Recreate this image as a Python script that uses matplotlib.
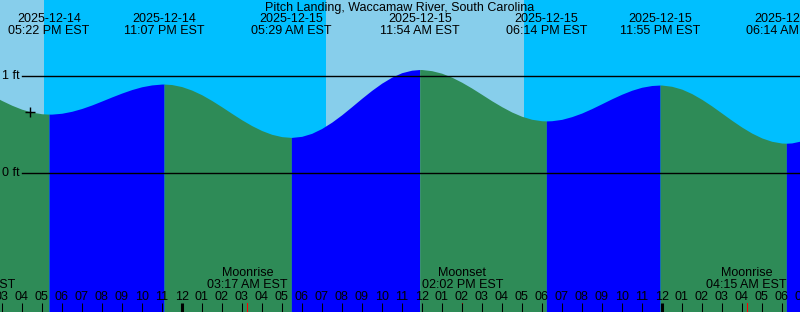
import numpy as np
import matplotlib
matplotlib.use('Agg')
import matplotlib.pyplot as plt
import matplotlib.transforms as mtransforms

# hours are counted from midnight 2025-12-15 (EST)

# ---- tide curve, read every half hour off the chart (ft)
curve_hours = [k / 2 for k in range(-20, 64)]
curve_level = [0.861, 0.805, 0.751, 0.702, 0.661, 0.631, 0.614, 0.610, 0.619, 0.639,
               0.668, 0.704, 0.745, 0.787, 0.827, 0.863, 0.892, 0.911, 0.920, 0.915,
               0.894, 0.858, 0.810, 0.751, 0.686, 0.618, 0.552, 0.492, 0.441, 0.402,
               0.378, 0.370, 0.381, 0.412, 0.462, 0.527, 0.603, 0.687, 0.773, 0.855,
               0.929, 0.991, 1.037, 1.063, 1.070, 1.058, 1.032, 0.991, 0.939, 0.879,
               0.814, 0.748, 0.687, 0.632, 0.588, 0.557, 0.542, 0.542, 0.556, 0.584,
               0.621, 0.667, 0.717, 0.768, 0.815, 0.856, 0.887, 0.905, 0.910, 0.897,
               0.868, 0.822, 0.763, 0.695, 0.621, 0.547, 0.477, 0.415, 0.365, 0.330,
               0.312, 0.313, 0.335, 0.377]

# ---- high / low tides
tide_hours = [-6.633, -0.883, 5.483, 11.900, 18.233, 23.917, 30.233]
tide_level = [0.61, 0.92, 0.37, 1.07, 0.54, 0.91, 0.31]
tide_kind = ['low', 'high', 'low', 'high', 'low', 'high', 'low']
tide_dates = ['2025-12-14', '2025-12-14', '2025-12-15', '2025-12-15',
              '2025-12-15', '2025-12-15', '2025-12-16']
tide_times = ['05:22 PM EST', '11:07 PM EST', '05:29 AM EST', '11:54 AM EST',
              '06:14 PM EST', '11:55 PM EST', '06:14 AM EST']

# ---- sun (day = light blue)
day_spans = [(-12.0, -6.885), (7.215, 17.115)]

# ---- moon
moon_hours = [-10.35, 3.283, 14.033, 28.25]
moon_names = ['Moonset', 'Moonrise', 'Moonset', 'Moonrise']
moon_times = ['01:39 PM EST', '03:17 AM EST', '02:02 PM EST', '04:15 AM EST']

now_hour, now_level = -7.585, 0.635

title = 'Pitch Landing, Waccamaw River, South Carolina'

#%%
W, H = 800, 312
x0 = -181.7 / 20.0            # left edge, 20 px per hour
x1 = x0 + W / 20.0
ft_px = 97.0
y_top = 173.3 / ft_px
y_bot = (173.3 - H) / ft_px

night_col = '#00BFFF'
day_col = '#87CEEB'
fall_col = '#2E8B57'
rise_col = '#0000FF'

plt.rcParams['font.family'] = ['Liberation Sans', 'DejaVu Sans']

fig = plt.figure(figsize=(W / 100, H / 100), dpi=100)
ax = fig.add_axes([0, 0, 1, 1])
ax.set_xlim(x0, x1)
ax.set_ylim(y_bot, y_top)
ax.axis('off')
fig.patch.set_facecolor(night_col)
ax.axvspan(x0, x1, color=night_col, lw=0)

blend = mtransforms.blended_transform_factory(ax.transData, ax.transAxes)
def py(p): return 1 - p / H

for a, b in day_spans:
    ax.axvspan(a, b, color=day_col, lw=0)

# merge curve with tide extremes
t_all = np.array(curve_hours + tide_hours, dtype=float)
h_all = np.array(curve_level + tide_level, dtype=float)
order = np.argsort(t_all)
t_all, h_all = t_all[order], h_all[order]

bounds = [t_all[0]] + tide_hours + [t_all[-1]]
for i in range(len(bounds) - 1):
    a, b = bounds[i], bounds[i + 1]
    m = (t_all >= a) & (t_all <= b)
    # segment ending at a high is rising
    if i < len(tide_kind):
        col = rise_col if tide_kind[i] == 'high' else fall_col
    else:
        col = rise_col if tide_kind[-1] == 'low' else fall_col
    ax.fill_between(t_all[m], h_all[m], y_bot, color=col, lw=0)

# datum lines
for lev in [0, 1]:
    ax.axhline(lev, xmin=22 / W, color='k', lw=1.0)
    ax.text(2 / 20.0 + x0, lev, f'{lev} ft', ha='left', va='center', fontsize=9)

ax.plot(now_hour, now_level, marker='+', color='k', ms=7, mew=1.0)

# top text
ax.text(0.5, py(7.5), title, transform=ax.transAxes, ha='center', va='center', fontsize=9)
for t, d, s in zip(tide_hours, tide_dates, tide_times):
    ax.text(t, py(19.5), d, transform=blend, ha='center', va='center', fontsize=9)
    ax.text(t, py(31.5), s, transform=blend, ha='center', va='center', fontsize=9)

# bottom: moon events
for t, n, s in zip(moon_hours, moon_names, moon_times):
    ax.text(t, py(273), n, transform=blend, ha='center', va='center', fontsize=9)
    ax.text(t, py(285), s, transform=blend, ha='center', va='center', fontsize=9)
    ax.plot([t, t], [py(303), 0], transform=blend, color='red', lw=0.75)

# hour ticks
for hr in range(-9, 32):
    lab = '%02d' % (12 if hr % 12 == 0 else hr % 12)
    ax.text(hr, py(297.5), lab, transform=blend, ha='center', va='center', fontsize=9)
    lw = 2.2 if hr % 24 == 0 else 0.75
    ax.plot([hr, hr], [py(303), 0], transform=blend, color='k', lw=lw,
            solid_capstyle='butt')

fig.savefig('out.png', dpi=100, facecolor=night_col)
